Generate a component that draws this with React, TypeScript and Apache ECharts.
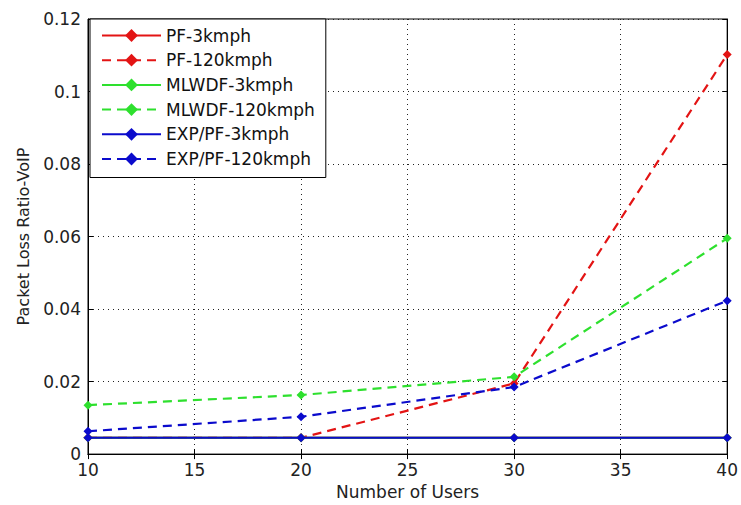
import React, { useEffect, useRef } from "react";
import * as echarts from "echarts";

const users = [10, 20, 30, 40];
const seriesNames = [
  "PF-3kmph",
  "PF-120kmph",
  "MLWDF-3kmph",
  "MLWDF-120kmph",
  "EXP/PF-3kmph",
  "EXP/PF-120kmph",
];
const pf3 = [0.0045, 0.0045, 0.0045, 0.0045];
const pf120 = [0.0045, 0.0045, 0.0195, 0.1102];
const mlwdf3 = [0.0045, 0.0045, 0.0045, 0.0045];
const mlwdf120 = [0.0135, 0.0163, 0.0213, 0.0595];
const exp3 = [0.0045, 0.0045, 0.0045, 0.0045];
const exp120 = [0.0063, 0.0103, 0.0185, 0.0423];
const yTicks = [0, 0.02, 0.04, 0.06, 0.08, 0.1, 0.12];
const xTicks = [10, 15, 20, 25, 30, 35, 40];

const RED = "#e31414";
const GREEN = "#2ee02e";
const BLUE = "#0b0bcc";

export default function App() {
  const ref = useRef<HTMLDivElement>(null);
  useEffect(() => {
    if (!ref.current) return;
    const chart = echarts.init(ref.current, undefined, { renderer: "svg" });
    const values = [pf3, pf120, mlwdf3, mlwdf120, exp3, exp120];
    const colors = [RED, RED, GREEN, GREEN, BLUE, BLUE];
    const dashed = [false, true, false, true, false, true];
    const font = "'DejaVu Sans', sans-serif";
    chart.setOption({
      animation: false,
      backgroundColor: "#ffffff",
      textStyle: { fontFamily: font },
      grid: {
        left: 88,
        right: 3,
        top: 19,
        bottom: 46,
        show: true,
        borderColor: "#000",
        borderWidth: 1,
        containLabel: false,
      },
      legend: {
        orient: "vertical",
        left: 90,
        top: 19,
        padding: [8, 11, 10, 11],
        itemGap: 7.7,
        itemWidth: 59,
        itemHeight: 16,
        backgroundColor: "#fff",
        borderColor: "#000",
        borderWidth: 1,
        borderRadius: 0,
        textStyle: { fontSize: 17, lineHeight: 16, color: "#111", fontFamily: font },
        data: seriesNames,
      },
      xAxis: [
        {
          type: "value",
          min: 10,
          max: 40,
          interval: 5,
          name: "Number of Users",
          nameLocation: "middle",
          nameGap: 26,
          nameTextStyle: { fontSize: 17, color: "#222", fontFamily: font },
          axisLine: { show: true, lineStyle: { color: "#000", width: 1 } },
          axisTick: { show: true, inside: true, length: 5, lineStyle: { color: "#000" } },
          axisLabel: {
            fontSize: 17,
            color: "#222",
            margin: 7,
            customValues: xTicks,
          },
          splitLine: {
            show: true,
            lineStyle: { type: [1, 4], color: "#222", width: 1 },
          },
        },
        {
          type: "value",
          position: "top",
          min: 10,
          max: 40,
          interval: 5,
          axisLine: { show: true, lineStyle: { color: "#000" } },
          axisTick: { show: true, inside: true, length: 5, lineStyle: { color: "#000" } },
          axisLabel: { show: false },
          splitLine: { show: false },
        },
      ],
      yAxis: [
        {
          type: "value",
          min: 0,
          max: 0.12,
          interval: 0.02,
          name: "Packet Loss Ratio-VoIP",
          nameLocation: "middle",
          nameGap: 57,
          nameTextStyle: { fontSize: 16, color: "#222", fontFamily: font },
          axisLine: { show: true, lineStyle: { color: "#000" } },
          axisTick: { show: true, inside: true, length: 5, lineStyle: { color: "#000" } },
          axisLabel: {
            fontSize: 17,
            color: "#222",
            margin: 7,
            customValues: yTicks,
            formatter: (v: number) => String(Number(v.toFixed(2))),
          },
          splitLine: {
            show: true,
            lineStyle: { type: [1, 4], color: "#222", width: 1 },
          },
        },
        {
          type: "value",
          position: "right",
          min: 0,
          max: 0.12,
          interval: 0.02,
          axisLine: { show: true, lineStyle: { color: "#000" } },
          axisTick: { show: true, inside: true, length: 5, lineStyle: { color: "#000" } },
          axisLabel: { show: false },
          splitLine: { show: false },
        },
      ],
      series: seriesNames.map((name, i) => ({
        name,
        type: "line",
        xAxisIndex: 0,
        yAxisIndex: 0,
        data: users.map((u, j) => [u, values[i][j]]),
        symbol: "diamond",
        symbolSize: 9,
        clip: false,
        itemStyle: { color: colors[i] },
        lineStyle: {
          color: colors[i],
          width: dashed[i] ? 2.2 : 2,
          type: dashed[i] ? [9, 6] : "solid",
        },
        z: 2 + i,
      })),
    });
    return () => chart.dispose();
  }, []);
  return (
    <div
      ref={ref}
      style={{ position: "absolute", left: 0, top: 0, width: 741, height: 505, background: "#fff" }}
    />
  );
}
